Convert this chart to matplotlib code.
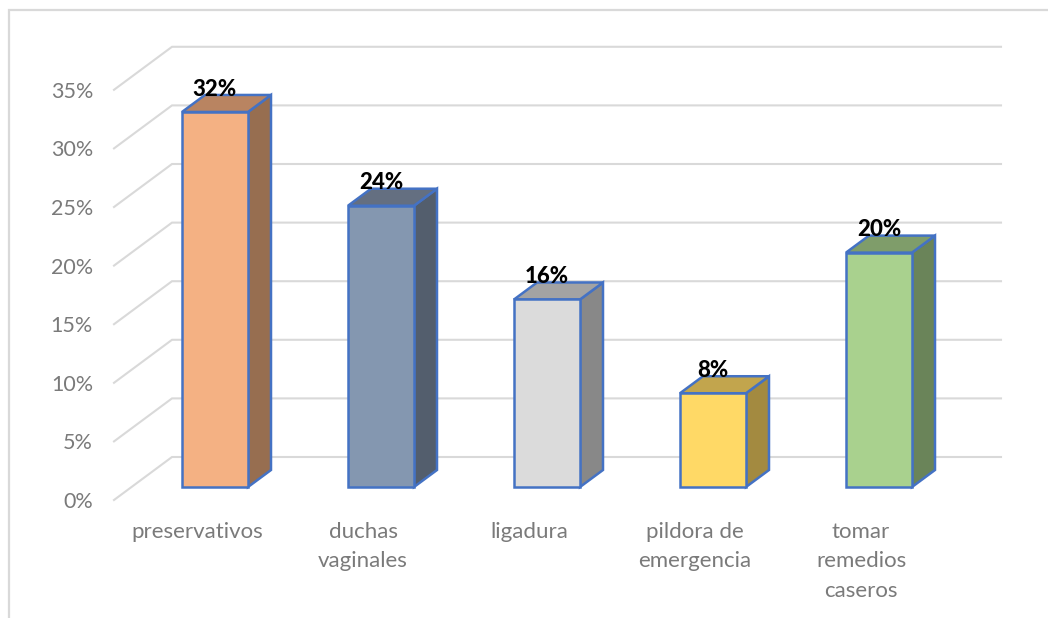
import matplotlib
matplotlib.use("Agg")
import matplotlib.pyplot as plt
from matplotlib.patches import Polygon

plt.rcParams["font.family"] = ["Lato", "DejaVu Sans"]

categories = ["preservativos", "duchas\nvaginales", "ligadura",
              "pildora de\nemergencia", "tomar\nremedios\ncaseros"]
values = [32, 24, 16, 8, 20]
yticks = [0, 5, 10, 15, 20, 25, 30, 35]
front_colors = ["#F4B183", "#8497B0", "#DBDBDB", "#FFD966", "#A9D18E"]
top_colors = ["#B98461", "#646F81", "#A3A3A3", "#C2A54D", "#7F9D6A"]
side_colors = ["#976E50", "#535E6D", "#888888", "#A38A40", "#6A8459"]

W, H = 1048, 618
GRID = "#D9D9D9"
TXT = "#7A7A7A"
EDGE = "#4472C4"
PX_X = 166.0    # px per category
PX_Y = 11.72    # px per percent
X0 = 215.0      # px of first category centre
Y0 = 487.0      # px of 0%

fig = plt.figure(figsize=(W / 100, H / 100), dpi=100, facecolor="white")
ax = fig.add_axes([0, 0, 1, 1])
ax.set_xlim(-X0 / PX_X, (W - X0) / PX_X)
ax.set_ylim((Y0 - H) / PX_Y, Y0 / PX_Y)
ax.axis("off")

bar_w = 66 / PX_X
dx, dy = 23 / PX_X, 17 / PX_Y


def xp(px):
    return (px - X0) / PX_X


# outer frame, cut off by the image on the right and bottom
ax.plot([xp(9), xp(9), xp(1048)], [(Y0 - 618) / PX_Y, (Y0 - 10) / PX_Y, (Y0 - 10) / PX_Y],
        color=GRID, lw=1.6, zorder=1, solid_joinstyle="miter")

# back wall gridlines and the slanted side wall
for v in yticks:
    back = v + (Y0 - 457) / PX_Y
    front = v - 13 / PX_Y
    ax.plot([xp(114), xp(172), xp(1001)], [front, back, back], color=GRID, lw=1.5,
            solid_joinstyle="miter", zorder=1)
    ax.text(xp(93), front - 0.17, f"{v}%", ha="right", va="center", color=TXT, fontsize=15.5)

for i, (cat, v) in enumerate(zip(categories, values)):
    l, r = i - bar_w / 2, i + bar_w / 2
    ax.add_patch(Polygon([(r, 0), (r + dx, dy), (r + dx, v + dy), (r, v)],
                         fc=side_colors[i], ec=EDGE, lw=1.8, zorder=3))
    ax.add_patch(Polygon([(l, v), (r, v), (r + dx, v + dy), (l + dx, v + dy)],
                         fc=top_colors[i], ec=EDGE, lw=1.8, zorder=3))
    ax.add_patch(Polygon([(l, 0), (r, 0), (r, v), (l, v)],
                         fc=front_colors[i], ec=EDGE, lw=1.8, zorder=3))
    ax.text(i, v + 1.95, f"{v}%", ha="center", va="center", color="black",
            fontsize=16, fontweight="black", zorder=4)
    ax.text(i - 0.108, -(522 - Y0) / PX_Y, cat, ha="center", va="top", color=TXT,
            fontsize=16, linespacing=1.58, zorder=4)

fig.savefig("out.png", dpi=100, facecolor="white")
